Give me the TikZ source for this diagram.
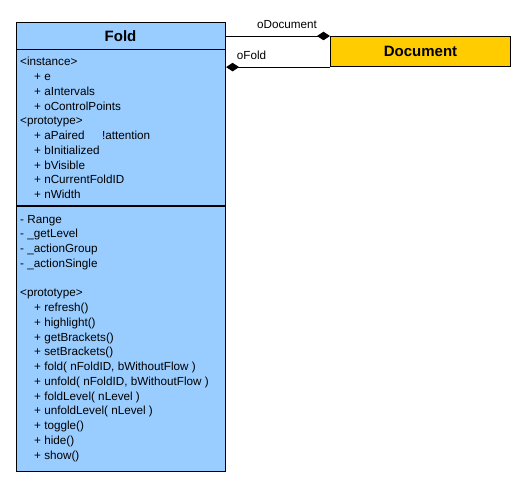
\documentclass[tikz,border=0pt]{standalone}
\usepackage{fontspec}
\setmainfont{Liberation Sans}
\usetikzlibrary{arrows.meta}
\definecolor{foldblue}{RGB}{153,204,255}
\definecolor{docyellow}{RGB}{255,204,0}
\tikzset{
  classbox/.style={draw=black, line width=1.1pt, rectangle, inner sep=0pt},
  member/.style={anchor=base west, inner sep=0pt, font=\fontsize{11.7}{14}\selectfont},
  classtitle/.style={font=\fontsize{15}{18}\selectfont\bfseries, inner sep=0pt},
  rolelabel/.style={font=\fontsize{11.7}{14}\selectfont, inner sep=0pt},
  comp/.style={line width=0.9pt, draw=black},
  sepline/.style={line width=1.1pt, draw=black}
}
\begin{document}
\begin{tikzpicture}[x=1pt,y=-1pt]
\useasboundingbox (0,0) rectangle (525,486);
% classes
\node[classbox, fill=foldblue, minimum width=209pt, minimum height=448.5pt, anchor=north west] (fold) at (16,22) {};
\node[classbox, fill=docyellow, minimum width=180pt, minimum height=30pt, anchor=north west] (doc) at (330,36) {};
\node[classtitle] (foldtitle) at (120.5,35.7) {Fold};
\node[classtitle] (doctitle) at (doc.center) {Document};
% separators
\draw[sepline] (fold.west |- 0,49.5) -- (fold.east |- 0,49.5);
\draw[sepline] (fold.west |- 0,206) -- (fold.east |- 0,206);
% attributes
\foreach \x/\t [count=\i from 0] in {20/{<instance>}, 34/{+ e}, 34/{+ aIntervals}, 34/{+ oControlPoints}, 20/{<prototype>}, 34/{+ aPaired\hspace{17.4pt}!attention}, 34/{+ bInitialized}, 34/{+ bVisible}, 34/{+ nCurrentFoldID}, 34/{+ nWidth}}
  \node[member] (attr\i) at (\x, 65.9+\i*14.75) {\t};
% private methods
\foreach \x/\t [count=\i from 0] in {20/{- Range}, 20/{- \_getLevel}, 20/{- \_actionGroup}, 20/{- \_actionSingle}}
  \node[member] (priv\i) at (\x, 223.2+\i*14.75) {\t};
% prototype methods
\foreach \x/\t [count=\i from 0] in {20/{<prototype>}, 34/{+ refresh()}, 34/{+ highlight()}, 34/{+ getBrackets()}, 34/{+ setBrackets()}, 34/{+ fold( nFoldID, bWithoutFlow )}, 34/{+ unfold( nFoldID, bWithoutFlow )}, 34/{+ foldLevel( nLevel )}, 34/{+ unfoldLevel( nLevel )}, 34/{+ toggle()}, 34/{+ hide()}, 34/{+ show()}}
  \node[member] (meth\i) at (\x, 296.95+\i*14.75) {\t};
% associations
\draw[comp, -{Diamond[length=13pt,width=8.5pt]}] (fold.east |- doc.north) -- (doc.north west);
\draw[comp, {Diamond[length=13pt,width=8.5pt]}-] (fold.east |- doc.south) -- (doc.south west);
\node[rolelabel] (lbldoc) at (287,25) {oDocument};
\node[rolelabel] (lblfold) at (251.5,55) {oFold};
\end{tikzpicture}
\end{document}
